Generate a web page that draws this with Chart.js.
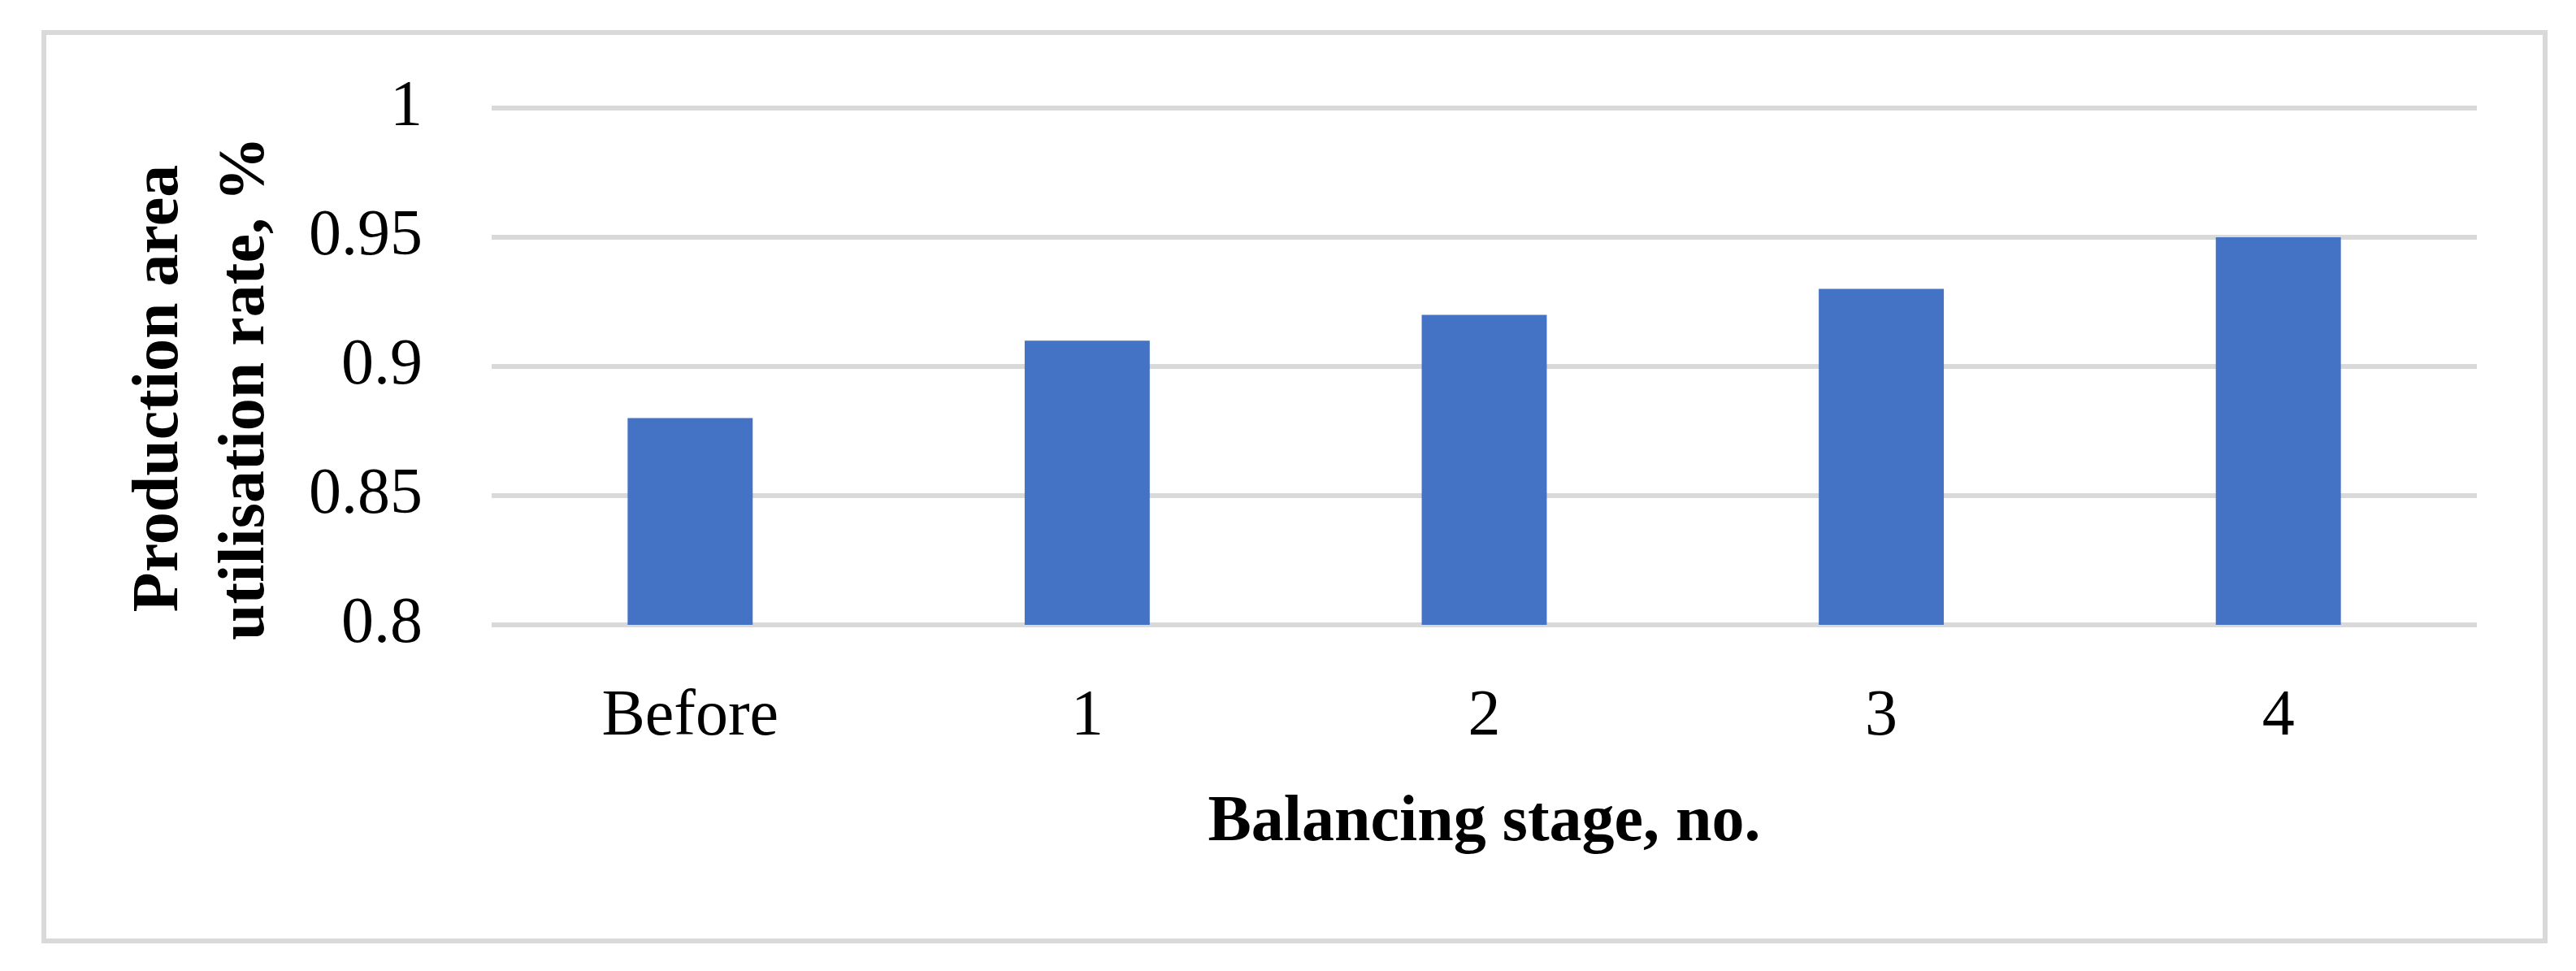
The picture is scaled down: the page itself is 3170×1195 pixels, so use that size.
<!DOCTYPE html>
<html>
<head>
<meta charset="utf-8">
<script src="https://cdn.jsdelivr.net/npm/chart.js@4"></script>
<style>
  html, body { margin: 0; padding: 0; background: #fff; }
  canvas { display: block; }
</style>
</head>
<body>
<canvas id="chart" width="3170" height="1195"></canvas>
<script>
// data
const stages = ['Before', '1', '2', '3', '4'];
const utilisation = [0.88, 0.91, 0.92, 0.93, 0.95];
const yTickValues = [0.8, 0.85, 0.9, 0.95, 1];
const yTickLabels = ['0.8', '0.85', '0.9', '0.95', '1'];
const yTitle = ['Production area', 'utilisation rate, %'];
const xTitle = 'Balancing stage, no.';

const serif = '"Liberation Serif", "Times New Roman", serif';

// outer frame + white background
const frame = {
  id: 'frame',
  beforeDraw(chart) {
    const ctx = chart.ctx;
    ctx.save();
    ctx.fillStyle = '#fff';
    ctx.fillRect(0, 0, chart.width, chart.height);
    ctx.strokeStyle = '#d9d9d9';
    ctx.lineWidth = 6;
    ctx.strokeRect(54, 40, 3132 - 54, 1158 - 40);
    ctx.restore();
  }
};

// y title drawn by hand, it sits a bit below the plot centre
const yTitlePlugin = {
  id: 'yTitle',
  afterDraw(chart) {
    const ctx = chart.ctx;
    const area = chart.chartArea;
    const cy = (area.top + area.bottom) / 2 + 27;
    ctx.save();
    ctx.font = 'bold 80px ' + serif;
    ctx.fillStyle = '#000';
    ctx.textAlign = 'center';
    ctx.textBaseline = 'alphabetic';
    yTitle.forEach((line, i) => {
      ctx.save();
      ctx.translate(218 + i * 106, cy);
      ctx.rotate(-Math.PI / 2);
      ctx.fillText(line, 0, 0);
      ctx.restore();
    });
    ctx.restore();
  }
};

const canvas = document.getElementById('chart');

new Chart(canvas, {
  type: 'bar',
  data: {
    labels: stages,
    datasets: [{
      data: utilisation,
      backgroundColor: '#4472c4',
      borderWidth: 0,
      barPercentage: 0.315,
      categoryPercentage: 1
    }]
  },
  options: {
    responsive: false,
    animation: false,
    devicePixelRatio: 1,
    layout: { padding: { left: 0, right: 122, top: 132, bottom: 96 } },
    plugins: {
      legend: { display: false },
      tooltip: { enabled: false }
    },
    scales: {
      x: {
        grid: { display: false, drawTicks: false },
        border: { display: false },
        ticks: {
          color: '#000',
          padding: 66,
          font: { family: serif, size: 80 }
        },
        title: {
          display: true,
          text: xTitle,
          color: '#000',
          font: { family: serif, size: 80, weight: 'bold' },
          padding: { top: 0, bottom: 38 }
        },
        afterFit: (scale) => { scale.height = 330; }
      },
      y: {
        min: 0.8,
        max: 1,
        grid: { color: '#d9d9d9', lineWidth: 6, drawTicks: false },
        border: { display: false },
        afterBuildTicks: (scale) => {
          scale.ticks = yTickValues.map(v => ({ value: v }));
        },
        ticks: {
          color: '#000',
          padding: 85,
          font: { family: serif, size: 80 },
          callback: (v) => yTickLabels[yTickValues.findIndex(t => Math.abs(t - v) < 1e-9)]
        },
        afterFit: (scale) => { scale.width = 605; }
      }
    }
  },
  plugins: [frame, yTitlePlugin]
});
</script>
</body>
</html>
